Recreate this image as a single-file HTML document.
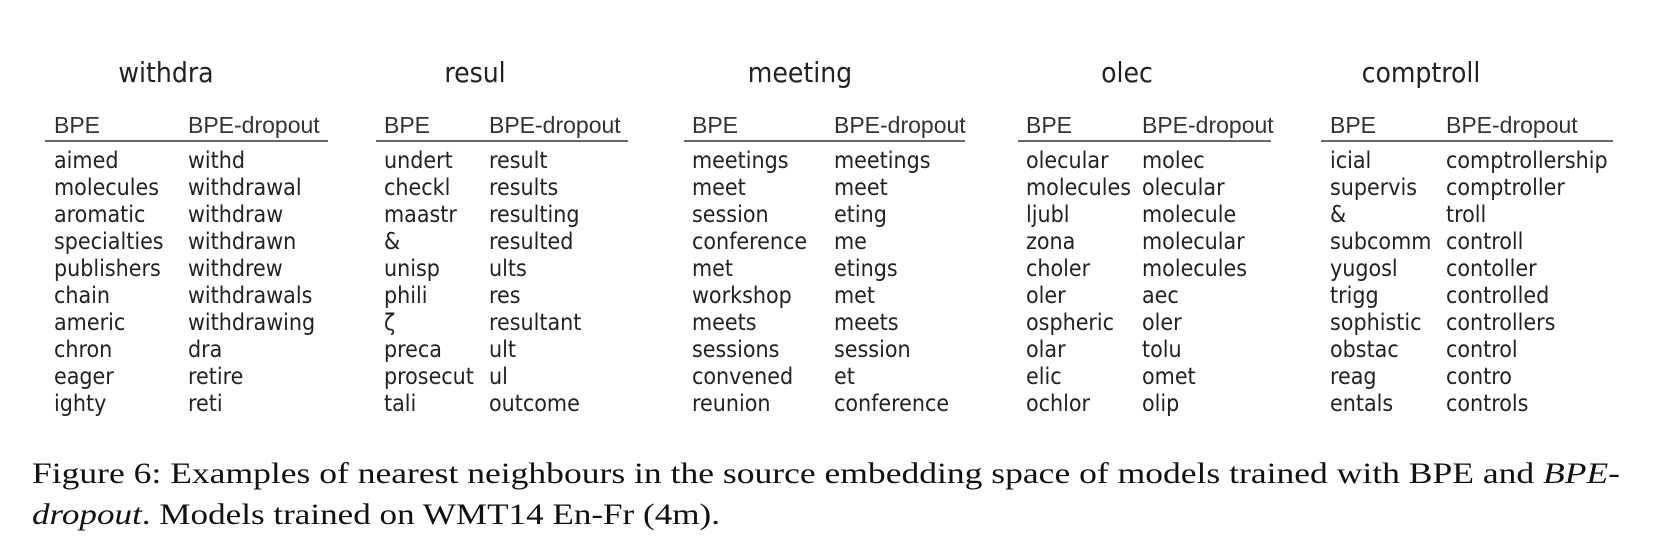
<!DOCTYPE html>
<html><head><meta charset="utf-8"><style>
html,body{margin:0;padding:0;background:#fff;}
svg{display:block;}
.t{font-family:"DejaVu Sans Condensed","DejaVu Sans",sans-serif;font-size:28px;fill:#222;}
.h{font-family:"Liberation Sans",sans-serif;font-size:23px;fill:#333;}
.r{font-family:"DejaVu Sans Condensed","DejaVu Sans",sans-serif;font-size:23px;fill:#222;}
.c{font-family:"Liberation Serif",serif;font-size:30px;fill:#111;}
</style></head><body>
<svg id="fig" width="1676" height="544" viewBox="0 0 1676 544" xmlns="http://www.w3.org/2000/svg">
<g id="tables"></g>
<text class="c" x="32" y="483" textLength="1588" lengthAdjust="spacingAndGlyphs">Figure 6: Examples of nearest neighbours in the source embedding space of models trained with BPE and <tspan font-style="italic">BPE-</tspan></text>
<text class="c" x="32" y="524" textLength="688" lengthAdjust="spacingAndGlyphs"><tspan font-style="italic">dropout</tspan>. Models trained on WMT14 En-Fr (4m).</text>
</svg>
<script>
const titles=["withdra","resul","meeting","olec","comptroll"];
const bpeCols=[
["aimed","molecules","aromatic","specialties","publishers","chain","americ","chron","eager","ighty"],
["undert","checkl","maastr","&","unisp","phili","ζ","preca","prosecut","tali"],
["meetings","meet","session","conference","met","workshop","meets","sessions","convened","reunion"],
["olecular","molecules","ljubl","zona","choler","oler","ospheric","olar","elic","ochlor"],
["icial","supervis","&","subcomm","yugosl","trigg","sophistic","obstac","reag","entals"]];
const dropCols=[
["withd","withdrawal","withdraw","withdrawn","withdrew","withdrawals","withdrawing","dra","retire","reti"],
["result","results","resulting","resulted","ults","res","resultant","ult","ul","outcome"],
["meetings","meet","eting","me","etings","met","meets","session","et","conference"],
["molec","olecular","molecule","molecular","molecules","aec","oler","tolu","omet","olip"],
["comptrollership","comptroller","troll","controll","contoller","controlled","controllers","control","contro","controls"]];
const L=[
{title:166,bpe:54,drop:188,l1:45,l2:328},
{title:475,bpe:384,drop:489,l1:376,l2:628},
{title:800,bpe:692,drop:834,l1:684,l2:965},
{title:1127,bpe:1026,drop:1142,l1:1018,l2:1271},
{title:1421,bpe:1330,drop:1446,l1:1321,l2:1613}];
const NS="http://www.w3.org/2000/svg";
const g=document.getElementById('tables');
function txt(cls,x,y,s,anchor){const t=document.createElementNS(NS,'text');t.setAttribute('class',cls);t.setAttribute('x',x);t.setAttribute('y',y);if(anchor)t.setAttribute('text-anchor',anchor);t.textContent=s;g.appendChild(t);return t;}
titles.forEach((tt,i)=>{
  const p=L[i];
  const a=txt('t',p.title,82,tt,'middle');
  
  
  const b=txt('h',p.bpe,133,'BPE');
  
  
  const c=txt('h',p.drop,133,'BPE-dropout');
  
  
  const ln=document.createElementNS(NS,'line');
  ln.setAttribute('x1',p.l1);ln.setAttribute('x2',p.l2);ln.setAttribute('y1',141);ln.setAttribute('y2',141);
  ln.setAttribute('stroke','#333');ln.setAttribute('stroke-width','1.5');
  
  
  g.appendChild(ln);
  bpeCols[i].forEach((w,j)=>{
    const e=txt('r',p.bpe,168+j*27,w);
    
    
  });
  dropCols[i].forEach((w,j)=>{
    const e=txt('r',p.drop,168+j*27,w);
    
    
  });
});
</script>
</body></html>
